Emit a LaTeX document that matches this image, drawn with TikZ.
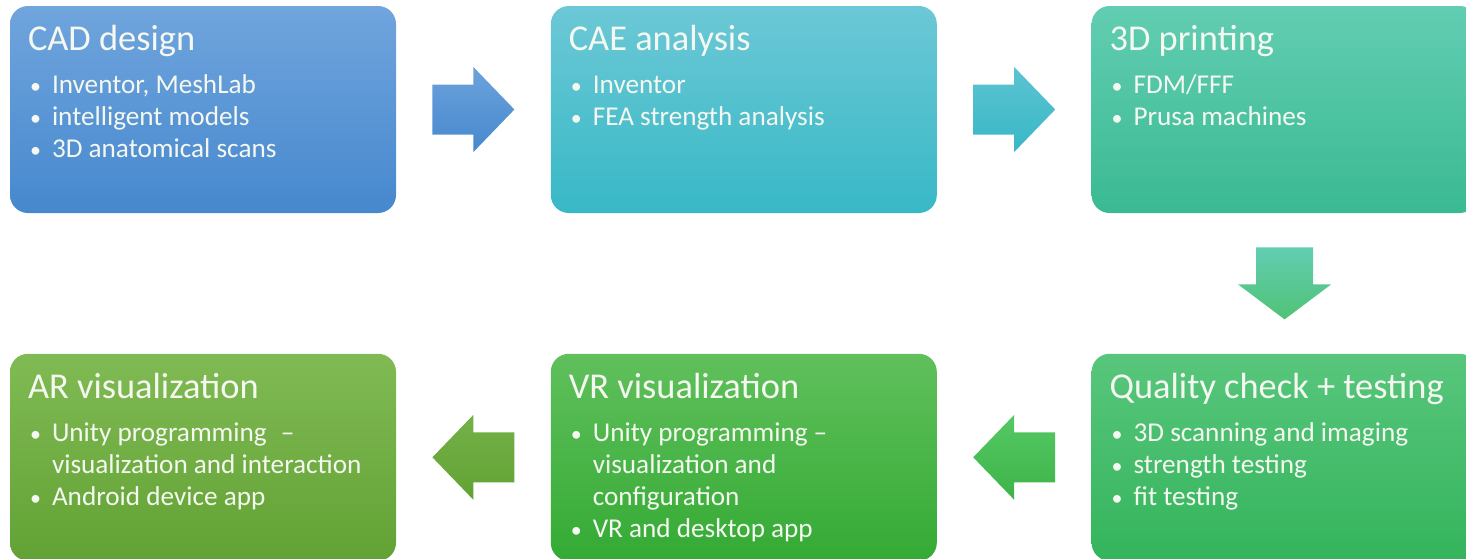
\documentclass[tikz,border=0pt]{standalone}
\usepackage{fontspec}
\setmainfont{Carlito}
\usetikzlibrary{positioning,calc}
\definecolor{txt}{RGB}{245,248,240}
\definecolor{cadtop}{RGB}{112,165,221}
\definecolor{cadbot}{RGB}{70,136,206}
\definecolor{caetop}{RGB}{108,200,214}
\definecolor{caebot}{RGB}{56,184,198}
\definecolor{prttop}{RGB}{98,205,178}
\definecolor{prtbot}{RGB}{58,186,146}
\definecolor{qctop}{RGB}{88,198,124}
\definecolor{qcbot}{RGB}{52,180,92}
\definecolor{vrtop}{RGB}{96,192,92}
\definecolor{vrbot}{RGB}{52,170,52}
\definecolor{artop}{RGB}{128,186,84}
\definecolor{arbot}{RGB}{98,162,52}
\definecolor{qcarrtop}{RGB}{86,200,100}
\definecolor{qcarrbot}{RGB}{60,180,72}
\tikzset{
  stage/.style={rectangle, rounded corners=9pt, minimum width=193pt,
    minimum height=103.5pt, inner sep=0pt},
  stagetext/.style={anchor=north west, inner sep=0pt, align=left, text=txt,
    font=\fontsize{13.6}{16}\selectfont},
}
\newcommand{\heading}[1]{{\fontsize{18.2}{22}\selectfont #1}\\[5.5pt]}
\newcommand{\bul}{\makebox[12pt][l]{\hspace{1pt}{\fontsize{11}{11}\selectfont\textbullet}}}
\newcommand{\cont}{\hspace*{12pt}}
\begin{document}
\begin{tikzpicture}[x=0.5pt,y=-0.5pt]
  \path[use as bounding box, clip] (0,0) rectangle (1466,558);
  \node[stage, top color=cadtop, bottom color=cadbot] (cad) at (203,109.5) {};
  \node[stage, top color=caetop, bottom color=caebot, right=77pt of cad] (cae) {};
  \node[stage, top color=prttop, bottom color=prtbot, right=77pt of cae] (print) {};
  \node[stage, top color=qctop, bottom color=qcbot, below=70pt of print] (qc) {};
  \node[stage, top color=vrtop, bottom color=vrbot, left=77pt of qc] (vr) {};
  \node[stage, top color=artop, bottom color=arbot, left=77pt of vr] (ar) {};

  \node[stagetext] (cad-t) at ([xshift=9pt,yshift=-9.5pt]cad.north west)
    {\heading{CAD design}\bul Inventor, MeshLab\\ \bul intelligent models\\ \bul 3D anatomical scans};
  \node[stagetext] (cae-t) at ([xshift=9pt,yshift=-9.5pt]cae.north west)
    {\heading{CAE analysis}\bul Inventor\\ \bul FEA strength analysis};
  \node[stagetext] (print-t) at ([xshift=9pt,yshift=-9.5pt]print.north west)
    {\heading{3D printing}\bul FDM/FFF\\ \bul Prusa machines};
  \node[stagetext] (qc-t) at ([xshift=9pt,yshift=-9.5pt]qc.north west)
    {\heading{Quality check + testing}\bul 3D scanning and imaging\\ \bul strength testing\\ \bul fit testing};
  \node[stagetext] (vr-t) at ([xshift=9pt,yshift=-9.5pt]vr.north west)
    {\heading{VR visualization}\bul Unity programming --\\ \cont visualization and\\ \cont configuration\\ \bul VR and desktop app};
  \node[stagetext] (ar-t) at ([xshift=9pt,yshift=-9.5pt]ar.north west)
    {\heading{AR visualization}\bul Unity programming\hspace{7pt}--\\ \cont visualization and interaction\\ \bul Android device app};

  \coordinate (a1) at ($(cad.east)!0.5!(cae.west)$);
  \coordinate (a2) at ($(cae.east)!0.5!(print.west)$);
  \coordinate (a3) at ($(print.south)!0.5!(qc.north)$);
  \coordinate (a4) at ($(qc.west)!0.5!(vr.east)$);
  \coordinate (a5) at ($(vr.west)!0.5!(ar.east)$);
  \shade[shift={(a1)}, top color=cadtop!90!cadbot, bottom color=cadbot]
    (-41,-25) -- (0,-25) -- (0,-42.5) -- (41,0) -- (0,42.5) -- (0,25) -- (-41,25) -- cycle;
  \shade[shift={(a2)}, top color=caetop!70!caebot, bottom color=caebot]
    (-41,-25) -- (0,-25) -- (0,-42.5) -- (41,0) -- (0,42.5) -- (0,25) -- (-41,25) -- cycle;
  \shade[shift={(a3)}, top color=prttop, bottom color=qctop!80!qcbot]
    (-28.5,-36) -- (28.5,-36) -- (28.5,1) -- (46.5,1) -- (0,36) -- (-46.5,1) -- (-28.5,1) -- cycle;
  \shade[shift={(a4)}, top color=qcarrtop, bottom color=qcarrbot]
    (41,-25) -- (0,-25) -- (0,-42.5) -- (-41,0) -- (0,42.5) -- (0,25) -- (41,25) -- cycle;
  \shade[shift={(a5)}, top color=artop!60!arbot, bottom color=arbot]
    (41,-25) -- (0,-25) -- (0,-42.5) -- (-41,0) -- (0,42.5) -- (0,25) -- (41,25) -- cycle;
\end{tikzpicture}
\end{document}
